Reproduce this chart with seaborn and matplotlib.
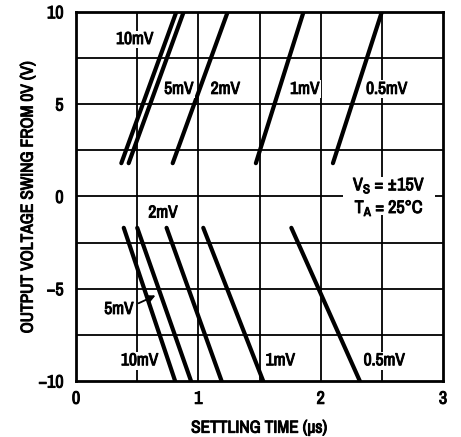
import matplotlib
matplotlib.use("Agg")
import matplotlib.pyplot as plt
import matplotlib.patheffects as pe
import seaborn as sns
import pandas as pd

sns.set_theme(style="white")
FAM = ['Archivo Narrow', 'Liberation Sans', 'DejaVu Sans']
plt.rcParams['font.family'] = FAM
plt.rcParams['mathtext.fontset'] = 'custom'
plt.rcParams['mathtext.rm'] = 'Archivo Narrow'
plt.rcParams['mathtext.bf'] = 'Archivo Narrow'

# Positive swing lines: (start time, start V) -> (end time, end V)
pos_labels = ["10mV", "5mV", "2mV", "1mV", "0.5mV"]
pos_x0 = [0.37, 0.43, 0.79, 1.47, 2.10]
pos_x1 = [0.82, 0.88, 1.24, 1.86, 2.50]
pos_y0 = [1.8, 1.8, 1.8, 1.8, 1.8]
pos_y1 = [10, 10, 10, 10, 10]

neg_labels = ["10mV", "5mV", "2mV", "1mV", "0.5mV"]
neg_x0 = [0.39, 0.50, 0.74, 1.04, 1.76]
neg_x1 = [0.81, 0.94, 1.19, 1.53, 2.32]
neg_y0 = [-1.7, -1.7, -1.7, -1.7, -1.7]
neg_y1 = [-10, -10, -10, -10, -10]

xticks = [0, 1, 2, 3]
yticks = [-10, -5, 0, 5, 10]
ytick_labels = ["\u221210", "\u22125", "0", "5", "10"]

rows = []
for lab, a, b, c, d in zip(pos_labels, pos_x0, pos_x1, pos_y0, pos_y1):
    rows.append(dict(series="+" + lab, t=a, v=c))
    rows.append(dict(series="+" + lab, t=b, v=d))
for lab, a, b, c, d in zip(neg_labels, neg_x0, neg_x1, neg_y0, neg_y1):
    rows.append(dict(series="-" + lab, t=a, v=c))
    rows.append(dict(series="-" + lab, t=b, v=d))
df = pd.DataFrame(rows)

fig = plt.figure(figsize=(4.61, 4.37), dpi=100)
ax = fig.add_axes([0.165, 0.128, 0.796, 0.845])

for v in [0.5, 1, 1.5, 2, 2.5]:
    ax.axvline(v, color="black", lw=1.3, zorder=1)
for h in [-7.5, -5, -2.5, 0, 2.5, 5, 7.5]:
    ax.axhline(h, color="black", lw=1.3, zorder=1)

pal = {s: "black" for s in df["series"].unique()}
sns.lineplot(data=df, x="t", y="v", hue="series", palette=pal, lw=3.0,
             legend=False, ax=ax, zorder=3, sort=False, estimator=None)

ax.set_xlim(0, 3)
ax.set_ylim(-10, 10)
ax.set_xticks(xticks)
ax.set_xticklabels([str(x) for x in xticks])
ax.set_yticks(yticks)
ax.set_yticklabels(ytick_labels)
ax.tick_params(axis="x", labelsize=13, length=0, pad=7, colors="black")
ax.tick_params(axis="y", labelsize=13, length=0, pad=9, colors="black")
for s in ax.spines.values():
    s.set_color("black")
    s.set_linewidth(2)

ax.set_xlabel("SETTLING TIME (\u03bcs)", fontsize=12.5, color="black", labelpad=10)
ax.set_ylabel("OUTPUT VOLTAGE SWING FROM 0V (V)", fontsize=12.5, color="black", labelpad=2)

fs = 12.5
kw = dict(fontsize=fs, color="black", zorder=4,
          bbox=dict(facecolor="white", edgecolor="none", pad=1))
texts = []
texts.append(ax.text(0.48, 8.5, "10mV", ha="center", va="center", **kw))
texts.append(ax.text(0.84, 5.8, "5mV", ha="center", va="center", **kw))
texts.append(ax.text(1.22, 5.8, "2mV", ha="center", va="center", **kw))
texts.append(ax.text(1.87, 5.8, "1mV", ha="center", va="center", **kw))
texts.append(ax.text(2.54, 5.8, "0.5mV", ha="center", va="center", **kw))

texts.append(ax.text(0.71, -0.9, "2mV", ha="center", va="center", **kw))
texts.append(ax.text(0.35, -6.12, "5mV", ha="center", va="center", **kw))
ax.annotate("", xy=(0.67, -5.3), xytext=(0.49, -5.85),
            arrowprops=dict(arrowstyle="-|>", color="black", lw=1.3), zorder=4)
texts.append(ax.text(0.52, -8.9, "10mV", ha="center", va="center", **kw))
texts.append(ax.text(1.67, -8.9, "1mV", ha="center", va="center", **kw))
texts.append(ax.text(2.52, -8.9, "0.5mV", ha="center", va="center", **kw))

# white patch behind the condition text
ax.text(2.56, 0.0, "\u2003\u2003\u2003\u2003\u2003\n\u2003", ha="center", va="center",
        fontsize=fs, color="white", zorder=3.5, linespacing=1.2,
        bbox=dict(facecolor="white", edgecolor="none", pad=2))
kw2 = dict(fontsize=fs + 0.5, color="black", zorder=4)
texts.append(ax.text(2.56, 0.6, r"V$_\mathregular{S}$ = $\pm$15V", ha="center", va="center", **kw2))
texts.append(ax.text(2.56, -0.6, r"T$_\mathregular{A}$ = 25$\degree$C", ha="center", va="center", **kw2))

texts += ax.get_xticklabels() + ax.get_yticklabels() + [ax.xaxis.label, ax.yaxis.label]
for t in texts:
    t.set_path_effects([pe.withStroke(linewidth=0.7, foreground="black")])

fig.savefig("out.png", dpi=100, facecolor="white")
